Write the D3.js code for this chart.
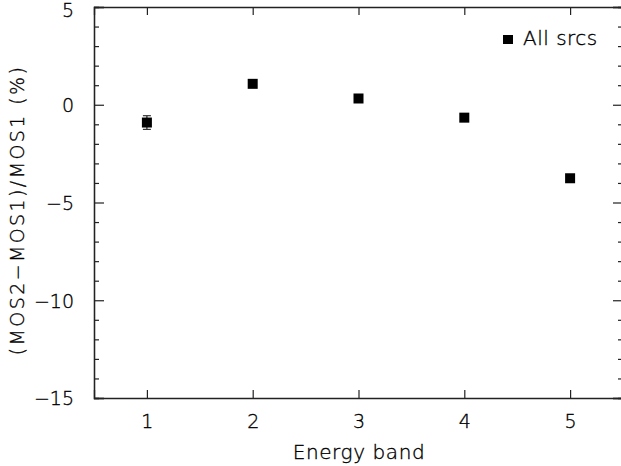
<!DOCTYPE html>
<html><head><meta charset="utf-8">
<script src="https://cdn.jsdelivr.net/npm/d3@7"></script>
<style>body{margin:0;background:#fff}svg{display:block}text{font-family:"DejaVu Sans",sans-serif;font-weight:200;fill:#000;stroke:#000;stroke-width:0.35px}</style>
</head><body>
<svg id="c" width="621" height="466"></svg>
<script>
const bands = [1, 2, 3, 4, 5];
const values = [-0.91, 1.07, 0.32, -0.66, -3.76];
const errors = [0.35, 0.1, 0.08, 0.08, 0.12];
const yTicks = [5, 0, -5, -10, -15];
const xTicks = [1, 2, 3, 4, 5];
const seriesName = "All srcs";

const svg = d3.select("#c");
const W = 621, H = 466;
const m = {l: 94, r: -2, t: 7, b: 68};
const x = d3.scaleLinear().domain([0.5, 5.5]).range([m.l, W - m.r]);
const y = d3.scaleLinear().domain([-15, 5]).range([H - m.b, m.t]);

const fmt = d => d < 0 ? "\u2212" + Math.abs(d) : String(d);

const gb = svg.append("g").attr("transform", `translate(0,${y(-15)})`)
  .call(d3.axisBottom(x).tickValues(xTicks).tickSize(-8).tickPadding(17).tickFormat(d3.format("d")));
const gt = svg.append("g").attr("transform", `translate(0,${y(5)})`)
  .call(d3.axisTop(x).tickValues(xTicks).tickSize(-8).tickFormat(""));
const gl = svg.append("g").attr("transform", `translate(${x(0.5)},0)`)
  .call(d3.axisLeft(y).tickValues(yTicks).tickSize(-10).tickPadding(20).tickFormat(fmt));
const minor = d3.range(-15, 6, 1).filter(v => v % 5 !== 0);
svg.append("g").attr("transform", `translate(${x(0.5)},0)`)
  .call(d3.axisLeft(y).tickValues(minor).tickSize(-5).tickFormat(""));
const gr = svg.append("g").attr("transform", `translate(${x(5.5)},0)`)
  .call(d3.axisRight(y).tickValues(yTicks).tickSize(-10).tickFormat(""));
svg.append("g").attr("transform", `translate(${x(5.5)},0)`)
  .call(d3.axisRight(y).tickValues(minor).tickSize(-5).tickFormat(""));

svg.selectAll(".domain").attr("stroke", "#222").attr("stroke-width", 1.3);
svg.selectAll(".tick line").attr("stroke", "#222").attr("stroke-width", 1.2);
svg.selectAll(".tick text").style("font-size", "19px").attr("fill", "#000");
gb.selectAll(".tick text").attr("dy", "0.71em");
gl.selectAll(".tick text").attr("dy", "0.36em");
gl.selectAll(".tick").filter(d => d === 5).select("text").attr("dy", "0.5em");

const pts = bands.map((b, i) => ({b, v: values[i], e: errors[i]}));
const eb = svg.append("g");
pts.forEach(p => {
  eb.append("line").attr("x1", x(p.b)).attr("x2", x(p.b)).attr("y1", y(p.v - p.e)).attr("y2", y(p.v + p.e)).attr("stroke", "#222").attr("stroke-width", 1.2);
  [p.v - p.e, p.v + p.e].forEach(v => eb.append("line").attr("x1", x(p.b) - 4).attr("x2", x(p.b) + 4).attr("y1", y(v)).attr("y2", y(v)).attr("stroke", "#333").attr("stroke-width", 1.2));
});
svg.append("g").selectAll("rect").data(pts).join("rect")
  .attr("x", d => x(d.b) - 5).attr("y", d => y(d.v) - 5).attr("width", 10).attr("height", 10).attr("fill", "#000");

svg.append("rect").attr("x", 503).attr("y", 35).attr("width", 10).attr("height", 9).attr("fill", "#000");
svg.append("text").attr("x", 523).attr("y", 45).style("font-size", "20px").style("letter-spacing", "0.5px").text(seriesName);

svg.append("text").attr("x", 359).attr("y", 459).attr("text-anchor", "middle").style("font-size", "20px").style("letter-spacing", "0.6px").text("Energy band");
svg.append("text").attr("transform", `translate(24,${(68 + 352) / 2}) rotate(-90)`).attr("text-anchor", "middle").style("font-size", "19px").style("letter-spacing", "2.4px").text("(MOS2\u2212MOS1)/MOS1  (%)");
</script>
</body></html>
